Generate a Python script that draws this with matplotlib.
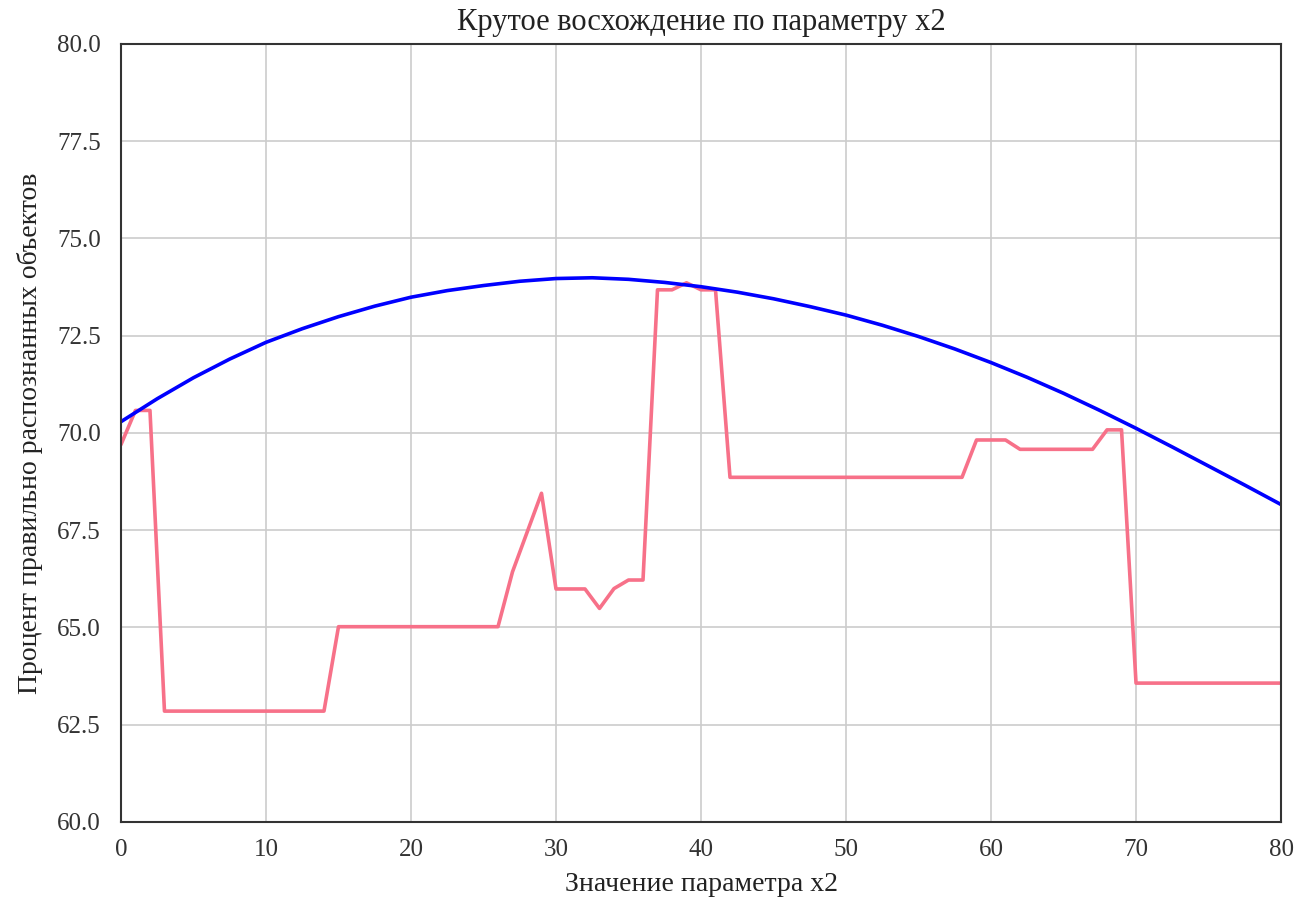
import matplotlib.pyplot as plt
import seaborn as sns

sns.set_style("white")
plt.rcParams['font.family'] = ['Liberation Serif', 'DejaVu Serif']

# ---------------- данные ----------------
x_exp = [0, 1, 2, 3, 4, 5, 6, 7, 8, 9, 10, 11, 12, 13, 14, 15, 16, 17, 18, 19,
         20, 21, 22, 23, 24, 25, 26, 27, 28, 29, 30, 31, 32, 33, 34, 35, 36, 37,
         38, 39, 40, 41, 42, 43, 44, 45, 46, 47, 48, 49, 50, 51, 52, 53, 54, 55,
         56, 57, 58, 59, 60, 61, 62, 63, 64, 65, 66, 67, 68, 69, 70, 71, 72, 73,
         74, 75, 76, 77, 78, 79, 80]
y_exp = [69.7, 70.58, 70.58, 62.85, 62.85, 62.85, 62.85, 62.85, 62.85, 62.85,
         62.85, 62.85, 62.85, 62.85, 62.85, 65.02, 65.02, 65.02, 65.02, 65.02,
         65.02, 65.02, 65.02, 65.02, 65.02, 65.02, 65.02, 66.43, 67.44, 68.45,
         65.99, 65.99, 65.99, 65.49, 66.0, 66.22, 66.22, 73.68, 73.68, 73.86,
         73.68, 73.68, 68.86, 68.86, 68.86, 68.86, 68.86, 68.86, 68.86, 68.86,
         68.86, 68.86, 68.86, 68.86, 68.86, 68.86, 68.86, 68.86, 68.86, 69.82,
         69.82, 69.82, 69.58, 69.58, 69.58, 69.58, 69.58, 69.58, 70.08, 70.08,
         63.57, 63.57, 63.57, 63.57, 63.57, 63.57, 63.57, 63.57, 63.57, 63.57,
         63.57]

# аппроксимация
x_fit = [0, 2.5, 5, 7.5, 10, 12.5, 15, 17.5, 20, 22.5, 25, 27.5, 30, 32.5, 35,
         37.5, 40, 42.5, 45, 47.5, 50, 52.5, 55, 57.5, 60, 62.5, 65, 67.5, 70,
         72.5, 75, 77.5, 80]
y_fit = [70.29, 70.88, 71.42, 71.90, 72.33, 72.68, 72.99, 73.26, 73.49, 73.66,
         73.79, 73.90, 73.97, 73.99, 73.95, 73.87, 73.76, 73.62, 73.45, 73.25,
         73.03, 72.77, 72.48, 72.16, 71.81, 71.43, 71.02, 70.58, 70.12, 69.64,
         69.15, 68.66, 68.16]

fig = plt.figure(figsize=(13.12, 9.01), dpi=100)
ax = fig.add_axes([0.0922, 0.0877, 0.8842, 0.8635])

ax.plot(x_exp, y_exp, color='#f77189', linewidth=2.6)
ax.plot(x_fit, y_fit, color='blue', linewidth=2.6)

ax.set_xlim(0, 80)
ax.set_ylim(60, 80)
ax.set_yticks([60, 62.5, 65, 67.5, 70, 72.5, 75, 77.5, 80])
ax.yaxis.set_major_formatter(plt.FormatStrFormatter('%.1f'))
ax.tick_params(labelsize=18, colors='#333333')
ax.tick_params(axis='x', pad=9)
ax.tick_params(axis='y', pad=11)
ax.grid(True, color='#cccccc', linewidth=1.2)
for s in ax.spines.values():
    s.set_color('#333333')
    s.set_linewidth(1.5)

ax.set_title("Крутое восхождение по параметру x2", fontsize=22, color='#222222', pad=10)
ax.set_xlabel("Значение параметра x2", fontsize=20, color='#222222', labelpad=8)
ax.set_ylabel("Процент правильно распознанных объектов", fontsize=20, color='#222222', labelpad=10)

plt.savefig("out.png", dpi=100)
plt.close()
